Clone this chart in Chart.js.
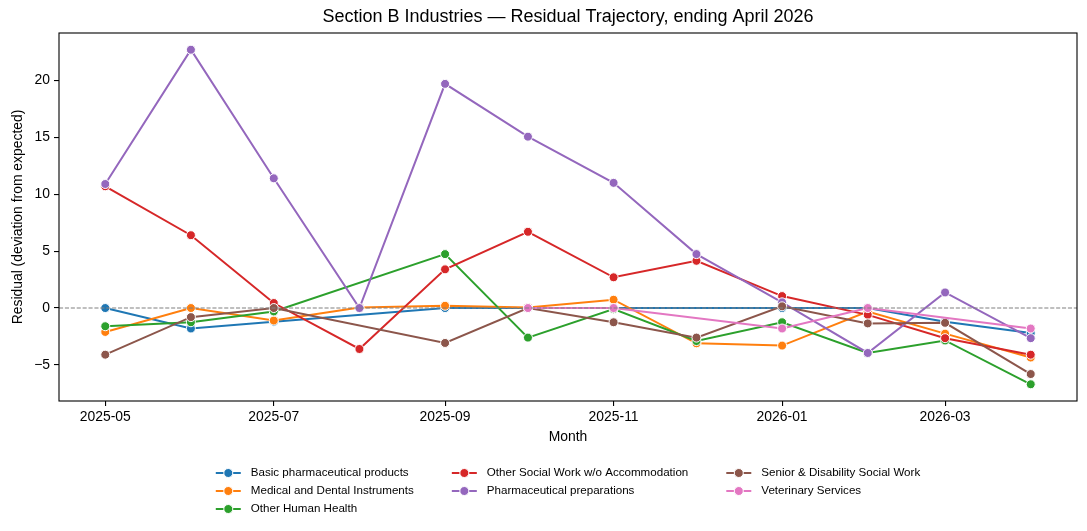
<!DOCTYPE html>
<html>
<head>
<meta charset="utf-8">
<script src="https://cdn.jsdelivr.net/npm/chart.js@4.4.0/dist/chart.umd.min.js"></script>
<style>
  body { margin: 0; background: #fff; }
</style>
</head>
<body>
<canvas id="residualChart" width="1087" height="531"></canvas>
<script>
var MONTHS = ['2025-05','2025-06','2025-07','2025-08','2025-09','2025-10','2025-11','2025-12','2026-01','2026-02','2026-03','2026-04'];
var TICK_MONTHS = ['2025-05','2025-07','2025-09','2025-11','2026-01','2026-03'];
var Y_TICKS = [-5, 0, 5, 10, 15, 20];
var TITLE = 'Section B Industries \u2014 Residual Trajectory, ending April 2026';

var SERIES_NAMES = ['Basic pharmaceutical products', 'Medical and Dental Instruments', 'Other Human Health',
    'Other Social Work w/o Accommodation', 'Pharmaceutical preparations', 'Senior & Disability Social Work', 'Veterinary Services'];
var SERIES_COLORS = ['#1f77b4', '#ff7f0e', '#2ca02c', '#d62728', '#9467bd', '#8c564b', '#e377c2'];

// residuals per month, null = no observation that month
var BASIC_PHARMA   = [0, -1.8, -1.2, null, 0, 0, 0, null, 0, 0, -1.2, -2.2];
var MEDICAL_DENTAL = [-2.1, 0, -1.1, 0.05, 0.2, 0.05, 0.73, -3.1, -3.3, -0.3, -2.25, -4.35];
var OTHER_HUMAN    = [-1.6, -1.25, -0.3, null, 4.74, -2.6, -0.1, -2.9, -1.25, -3.95, -2.85, -6.7];
var OTHER_SOCIAL   = [10.7, 6.4, 0.44, -3.6, 3.4, 6.7, 2.7, 4.15, 1.05, -0.6, -2.65, -4.1];
var PHARMA_PREP    = [10.9, 22.7, 11.4, 0, 19.7, 15.06, 11.0, 4.74, 0.5, -3.95, 1.37, -2.65];
var SENIOR_DISAB   = [-4.1, -0.8, 0, null, -3.07, 0, -1.25, -2.6, 0.15, -1.35, -1.3, -5.8];
var VETERINARY     = [null, null, null, null, null, 0, 0, null, -1.8, 0, null, -1.8];
var SERIES_VALUES = [BASIC_PHARMA, MEDICAL_DENTAL, OTHER_HUMAN, OTHER_SOCIAL, PHARMA_PREP, SENIOR_DISAB, VETERINARY];

var FONT = "'Liberation Sans', Arial, Helvetica, sans-serif";
Chart.defaults.font.family = FONT;
Chart.defaults.color = '#000';

function dayOf(month) {
    var p = month.split('-');
    return Date.UTC(+p[0], +p[1] - 1, 1) / 86400000;
}

// matplotlib style 5% margins
var xFirst = dayOf(MONTHS[0]), xLast = dayOf(MONTHS[MONTHS.length - 1]);
var xPad = (xLast - xFirst) * 0.05;
var allVals = [].concat.apply([], SERIES_VALUES).filter(v => v !== null);
var yLo = Math.min.apply(null, allVals), yHi = Math.max.apply(null, allVals);
var yPad = (yHi - yLo) * 0.05;

var datasets = SERIES_NAMES.map((name, i) => ({
    label: name,
    data: MONTHS.map((m, j) => ({x: dayOf(m), y: SERIES_VALUES[i][j]})),
    borderColor: SERIES_COLORS[i],
    backgroundColor: SERIES_COLORS[i],
    pointBackgroundColor: SERIES_COLORS[i],
    pointBorderColor: '#fff',
    pointBorderWidth: 1,
    pointRadius: 4.5,
    borderWidth: 2,
    spanGaps: true,
    order: SERIES_NAMES.length - i // later series on top, like matplotlib
}));

var zeroLine = {
    id: 'zeroLine',
    afterDatasetsDraw(chart) {
        var ctx = chart.ctx, area = chart.chartArea;
        var y = chart.scales.y.getPixelForValue(0);
        ctx.save();
        ctx.strokeStyle = '#808080';
        ctx.lineWidth = 1.1;
        ctx.setLineDash([4.1, 1.8]);
        ctx.beginPath();
        ctx.moveTo(area.left, y);
        ctx.lineTo(area.right, y);
        ctx.stroke();
        ctx.restore();
    }
};

// frame on all four sides + title centred over the axes
var frameBox = {
    id: 'frameBox',
    afterDraw(chart) {
        var ctx = chart.ctx, a = chart.chartArea;
        ctx.save();
        ctx.strokeStyle = '#000';
        ctx.lineWidth = 1.1;
        ctx.strokeRect(a.left, a.top, a.right - a.left, a.bottom - a.top);
        ctx.font = '18px ' + FONT;
        ctx.fillStyle = '#000';
        ctx.textAlign = 'center';
        ctx.textBaseline = 'middle';
        ctx.fillText(TITLE, (a.left + a.right) / 2, 17);
        ctx.restore();
    }
};

// legend laid out in columns (filled top to bottom), centred under the axes
var columnLegend = {
    id: 'columnLegend',
    afterDraw(chart) {
        var ctx = chart.ctx, area = chart.chartArea;
        var fs = 11.6, handleLen = 25, textPad = 10, colSpace = 38, rowStep = 18;
        var items = chart.data.datasets;
        var ncol = 3, nrow = Math.ceil(items.length / ncol);
        var big = items.length % ncol || ncol;
        ctx.save();
        ctx.font = fs + 'px ' + FONT;
        var columns = [], k = 0;
        for (var c = 0; c < ncol; c++) {
            var count = c < big ? nrow : nrow - 1;
            var col = [];
            for (var r = 0; r < count; r++) col.push(k++);
            columns.push(col);
        }
        var widths = columns.map(col => handleLen + textPad + Math.max.apply(null, col.map(i => ctx.measureText(items[i].label).width)));
        var total = widths.reduce((s, w) => s + w, 0) + colSpace * (ncol - 1);
        var x = (area.left + area.right) / 2 - total / 2;
        var y0 = area.bottom + 72;
        columns.forEach((col, c) => {
            col.forEach((i, r) => {
                var y = y0 + r * rowStep;
                var ds = items[i];
                ctx.strokeStyle = ds.borderColor;
                ctx.lineWidth = 2;
                ctx.beginPath();
                ctx.moveTo(x, y);
                ctx.lineTo(x + handleLen, y);
                ctx.stroke();
                ctx.beginPath();
                ctx.arc(x + handleLen / 2, y, 4.5, 0, Math.PI * 2);
                ctx.fillStyle = ds.borderColor;
                ctx.fill();
                ctx.strokeStyle = '#fff';
                ctx.lineWidth = 1;
                ctx.stroke();
                ctx.fillStyle = '#000';
                ctx.textBaseline = 'middle';
                ctx.textAlign = 'left';
                ctx.fillText(ds.label, x + handleLen + textPad, y);
            });
            x += widths[c] + colSpace;
        });
        ctx.restore();
    }
};

new Chart(document.getElementById('residualChart'), {
    type: 'line',
    data: { datasets: datasets },
    plugins: [zeroLine, frameBox, columnLegend],
    options: {
        responsive: false,
        animation: false,
        devicePixelRatio: 1,
        layout: { padding: { left: 0, right: 10, top: 33, bottom: 83 } },
        plugins: {
            legend: { display: false },
            tooltip: { enabled: false },
            title: { display: false }
        },
        scales: {
            x: {
                type: 'linear',
                min: xFirst - xPad,
                max: xLast + xPad,
                afterBuildTicks: scale => { scale.ticks = TICK_MONTHS.map(m => ({value: dayOf(m)})); },
                afterFit: scale => { scale.height = 47; },
                ticks: {
                    font: { size: 13.9 },
                    padding: 3,
                    maxRotation: 0,
                    callback: v => TICK_MONTHS[TICK_MONTHS.map(dayOf).indexOf(v)]
                },
                grid: { drawOnChartArea: false, color: '#000', lineWidth: 1.1, tickLength: 5 },
                border: { display: false },
                title: { display: true, text: 'Month', font: { size: 13.9 }, padding: { top: 0, bottom: 2 } }
            },
            y: {
                min: yLo - yPad,
                max: yHi + yPad,
                afterBuildTicks: scale => { scale.ticks = Y_TICKS.map(v => ({value: v})); },
                afterFit: scale => { scale.width = 59; },
                ticks: {
                    font: { size: 13.9 },
                    padding: 4,
                    callback: v => String(v).replace('-', '\u2212')
                },
                grid: { drawOnChartArea: false, color: '#000', lineWidth: 1.1, tickLength: 5 },
                border: { display: false },
                title: { display: true, text: 'Residual (deviation from expected)', font: { size: 13.9 }, padding: { top: 10, bottom: 0 } }
            }
        }
    }
});
</script>
</body>
</html>
